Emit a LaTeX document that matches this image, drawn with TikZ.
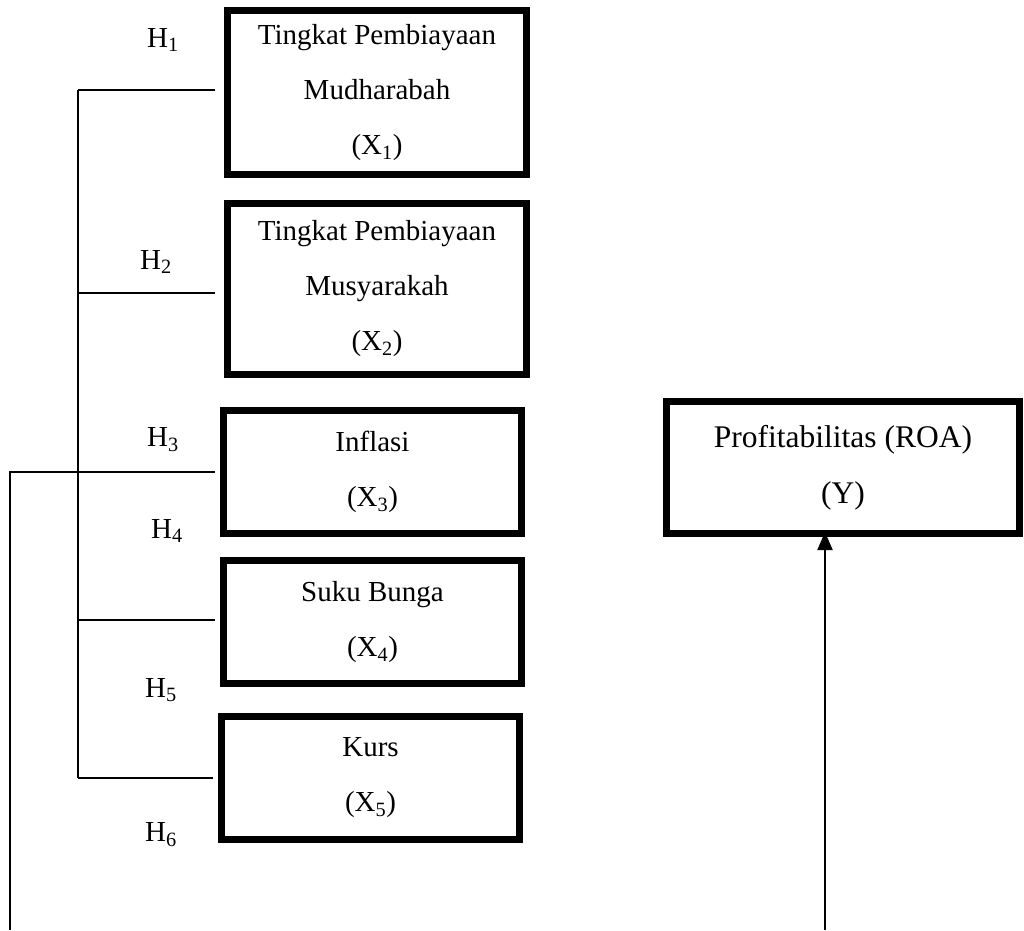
\documentclass[tikz,border=0pt]{standalone}
\usepackage{fontspec}
\setmainfont{Liberation Serif}
\usetikzlibrary{arrows.meta}
\tikzset{
  varbox/.style={draw, line width=7pt, rectangle, align=center, inner sep=0pt,
    font=\fontsize{29}{55}\selectfont},
  hlabel/.style={inner sep=0pt, font=\fontsize{29}{34}\selectfont},
  link/.style={line width=2pt},
  arrowlink/.style={line width=2pt, -{Triangle[width=15pt,length=18pt]}},
}
\begin{document}
\begin{tikzpicture}[x=1pt,y=-1pt]
\useasboundingbox (0,0) rectangle (1024,930);
% boxes
\node[varbox, minimum width=299pt, minimum height=164pt] (b1) at (377,92.5)
  {Tingkat Pembiayaan\\Mudharabah\\(X\textsubscript{1})};
\node[varbox, minimum width=299pt, minimum height=171pt] (b2) at (377,289)
  {Tingkat Pembiayaan\\Musyarakah\\(X\textsubscript{2})};
\node[varbox, minimum width=298pt, minimum height=123pt] (b3) at (372.5,472)
  {Inflasi\\(X\textsubscript{3})};
\node[varbox, minimum width=298pt, minimum height=123pt] (b4) at (372.5,622)
  {Suku Bunga\\(X\textsubscript{4})};
\node[varbox, minimum width=298pt, minimum height=123pt] (b5) at (370.5,778)
  {Kurs\\(X\textsubscript{5})};
\node[varbox, minimum width=353pt, minimum height=132pt,
  font=\fontsize{31.5}{56}\selectfont] (bY) at (843,467.5)
  {Profitabilitas (ROA)\\(Y)};
% hypothesis labels
\node[hlabel] (h1) at (163,40) {H\textsubscript{1}};
\node[hlabel] (h2) at (156,262) {H\textsubscript{2}};
\node[hlabel] (h3) at (163,440) {H\textsubscript{3}};
\node[hlabel] (h4) at (167,531) {H\textsubscript{4}};
\node[hlabel] (h5) at (161,690) {H\textsubscript{5}};
\node[hlabel] (h6) at (161,835) {H\textsubscript{6}};
% spine coordinates
\coordinate (s1) at (78,90);
\coordinate (s2) at (78,293);
\coordinate (s4) at (78,620);
\coordinate (s5) at (78,778);
\coordinate (L1) at (10,472);
\coordinate (L0) at (10,930);
\coordinate (A0) at (825,930);
% connectors
\draw[link] (s1) -- (s5);
\draw[link, shorten >=9pt] (s1) -- (b1.west |- s1);
\draw[link, shorten >=9pt] (s2) -- (b2.west |- s2);
\draw[link, shorten >=5pt] (L0) -- (L1) -- (b3.west);
\draw[link, shorten >=5pt] (s4) -- (b4.west |- s4);
\draw[link, shorten >=5pt] (s5) -- (b5.west |- s5);
\draw[arrowlink, shorten >=-5pt] (A0) -- (A0 |- bY.south);
\end{tikzpicture}
\end{document}
